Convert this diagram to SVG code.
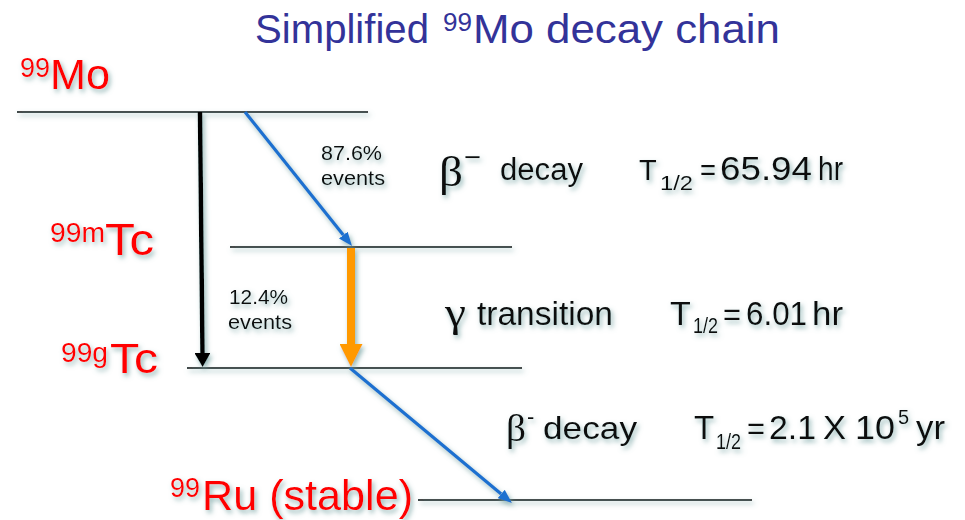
<svg xmlns="http://www.w3.org/2000/svg" width="965" height="520" viewBox="0 0 965 520">
  <defs>
    <!-- soft teal halo behind text and lines -->
    <filter id="glow" x="-10%" y="-40%" width="120%" height="180%">
      <feGaussianBlur in="SourceAlpha" stdDeviation="2.4" result="b"/>
      <feOffset in="b" dx="2" dy="2.5" result="o"/>
      <feFlood flood-color="#6f9f9f" flood-opacity="0.75"/>
      <feComposite in2="o" operator="in" result="s"/>
      <feMerge><feMergeNode in="s"/><feMergeNode in="SourceGraphic"/></feMerge>
    </filter>
    <marker id="headBlue" viewBox="0 0 14 11" refX="0" refY="5.5" markerWidth="14" markerHeight="11" orient="auto" markerUnits="userSpaceOnUse">
      <path d="M0,0 L14,5.5 L0,11 Z" fill="#1a6fd0"/>
    </marker>
    <marker id="headBlack" viewBox="0 0 14 16" refX="0" refY="8" markerWidth="14" markerHeight="16" orient="auto" markerUnits="userSpaceOnUse">
      <path d="M0,0 L14,8 L0,16 Z" fill="#000"/>
    </marker>
    <marker id="headOrange" viewBox="0 0 23 23" refX="0" refY="11.5" markerWidth="23" markerHeight="23" orient="auto" markerUnits="userSpaceOnUse">
      <path d="M0,0 L23,11.5 L0,23 Z" fill="#ff9900"/>
    </marker>
  </defs>
  <style>
    .sans { font-family: "Liberation Sans", Arial, sans-serif; }
    .greek { font-family: "Liberation Serif", "DejaVu Serif", serif; }
    .nuc { fill: #ff0000; font-family: "Liberation Sans", Arial, sans-serif; }
    .txt { fill: #111; font-family: "Liberation Sans", Arial, sans-serif; }
    .lvl { stroke: #000; stroke-width: 1.6; fill: none; }
    .beta { stroke: #1a6fd0; stroke-width: 3.2; fill: none; }
  </style>

  <rect width="965" height="520" fill="#ffffff"/>

  <!-- title -->
  <text id="title" class="sans" font-size="41" fill="#333399"><tspan x="255" y="43" textLength="174" lengthAdjust="spacingAndGlyphs">Simplified</tspan><tspan x="443" y="31" font-size="26" textLength="29" lengthAdjust="spacingAndGlyphs">99</tspan><tspan x="473" y="43" textLength="307" lengthAdjust="spacingAndGlyphs">Mo decay chain</tspan></text>

  <!-- energy levels -->
  <g id="level-mo99" filter="url(#glow)">
    <line class="lvl" x1="17" y1="112" x2="368" y2="112"/>
    <text class="nuc"><tspan x="20" y="77" font-size="27">99</tspan><tspan x="50" y="89" font-size="42" textLength="60" lengthAdjust="spacingAndGlyphs">Mo</tspan></text>
  </g>
  <g id="level-tc99m" filter="url(#glow)">
    <line class="lvl" x1="230" y1="247" x2="512" y2="247"/>
    <text class="nuc"><tspan x="50" y="242" font-size="27" textLength="55" lengthAdjust="spacingAndGlyphs">99m</tspan><tspan x="105" y="255" font-size="45" textLength="49" lengthAdjust="spacingAndGlyphs">Tc</tspan></text>
  </g>
  <g id="level-tc99g" filter="url(#glow)">
    <line class="lvl" x1="187" y1="368" x2="522" y2="368"/>
    <text class="nuc"><tspan x="61" y="362" font-size="27" textLength="47" lengthAdjust="spacingAndGlyphs">99g</tspan><tspan x="110" y="373" font-size="43" textLength="48" lengthAdjust="spacingAndGlyphs">Tc</tspan></text>
  </g>
  <g id="level-ru99" filter="url(#glow)">
    <line class="lvl" x1="418" y1="500" x2="752" y2="500"/>
    <text class="nuc"><tspan x="170" y="497" font-size="27" textLength="30" lengthAdjust="spacingAndGlyphs">99</tspan><tspan x="202" y="510" font-size="42" textLength="211" lengthAdjust="spacingAndGlyphs">Ru (stable)</tspan></text>
  </g>

  <!-- transitions -->
  <g id="connectors" filter="url(#glow)">
    <line x1="200" y1="112" x2="202.5" y2="353" stroke="#000" stroke-width="4.5" marker-end="url(#headBlack)"/>
    <line class="beta" x1="245" y1="112" x2="343.3" y2="235.1" marker-end="url(#headBlue)"/>
    <line x1="351" y1="248" x2="351" y2="344" stroke="#ff9900" stroke-width="8" marker-end="url(#headOrange)"/>
    <line class="beta" x1="350" y1="368" x2="501.2" y2="494" marker-end="url(#headBlue)"/>
  </g>

  <!-- branching labels -->
  <g id="branch-876" filter="url(#glow)">
    <text class="txt" x="321" y="160" font-size="20" textLength="61" lengthAdjust="spacingAndGlyphs">87.6%</text>
    <text class="txt" x="321" y="185" font-size="20" textLength="64" lengthAdjust="spacingAndGlyphs">events</text>
  </g>
  <g id="branch-124" filter="url(#glow)">
    <text class="txt" x="229" y="304" font-size="20" textLength="59" lengthAdjust="spacingAndGlyphs">12.4%</text>
    <text class="txt" x="228" y="329" font-size="20" textLength="64" lengthAdjust="spacingAndGlyphs">events</text>
  </g>

  <!-- decay modes and half-lives -->
  <g id="decay-mo" filter="url(#glow)">
    <text class="txt"><tspan class="greek" x="439" y="186" font-size="42" textLength="24" lengthAdjust="spacingAndGlyphs">β</tspan><tspan x="464" y="166" font-size="26" textLength="17" lengthAdjust="spacingAndGlyphs">−</tspan><tspan x="500" y="180" font-size="31" textLength="83" lengthAdjust="spacingAndGlyphs">decay</tspan></text>
    <text class="txt"><tspan x="639" y="180" font-size="29">T</tspan><tspan x="660" y="190" font-size="21" textLength="33" lengthAdjust="spacingAndGlyphs">1/2</tspan><tspan x="700" y="180" font-size="30" textLength="16" lengthAdjust="spacingAndGlyphs">=</tspan><tspan x="720" y="180" font-size="33" textLength="92" lengthAdjust="spacingAndGlyphs">65.94</tspan><tspan x="818" y="180" font-size="33" textLength="25" lengthAdjust="spacingAndGlyphs">hr</tspan></text>
  </g>
  <g id="decay-tcm" filter="url(#glow)">
    <text class="txt"><tspan class="greek" x="445" y="326" font-size="41" textLength="21" lengthAdjust="spacingAndGlyphs">γ</tspan><tspan x="477" y="325" font-size="33" textLength="136" lengthAdjust="spacingAndGlyphs">transition</tspan></text>
    <text class="txt"><tspan x="670" y="325" font-size="34">T</tspan><tspan x="693" y="333" font-size="22" textLength="25" lengthAdjust="spacingAndGlyphs">1/2</tspan><tspan x="723" y="325" font-size="32" textLength="18" lengthAdjust="spacingAndGlyphs">=</tspan><tspan x="746" y="325" font-size="34" textLength="61" lengthAdjust="spacingAndGlyphs">6.01</tspan><tspan x="812" y="325" font-size="34" textLength="31" lengthAdjust="spacingAndGlyphs">hr</tspan></text>
  </g>
  <g id="decay-tcg" filter="url(#glow)">
    <text class="txt"><tspan class="greek" x="506" y="441" font-size="38" textLength="20" lengthAdjust="spacingAndGlyphs">β</tspan><tspan x="527" y="424" font-size="22">-</tspan><tspan x="543" y="439" font-size="32" textLength="94" lengthAdjust="spacingAndGlyphs">decay</tspan></text>
    <text class="txt"><tspan x="694" y="439" font-size="33">T</tspan><tspan x="716" y="449" font-size="22" textLength="25" lengthAdjust="spacingAndGlyphs">1/2</tspan><tspan x="747" y="439" font-size="32" textLength="18" lengthAdjust="spacingAndGlyphs">=</tspan><tspan x="769" y="439" font-size="34" textLength="47" lengthAdjust="spacingAndGlyphs">2.1</tspan><tspan x="823" y="439" font-size="33" textLength="23" lengthAdjust="spacingAndGlyphs">X</tspan><tspan x="855" y="439" font-size="34" textLength="40" lengthAdjust="spacingAndGlyphs">10</tspan><tspan x="898" y="424" font-size="20">5</tspan><tspan x="916" y="439" font-size="34" textLength="29" lengthAdjust="spacingAndGlyphs">yr</tspan></text>
  </g>
</svg>
